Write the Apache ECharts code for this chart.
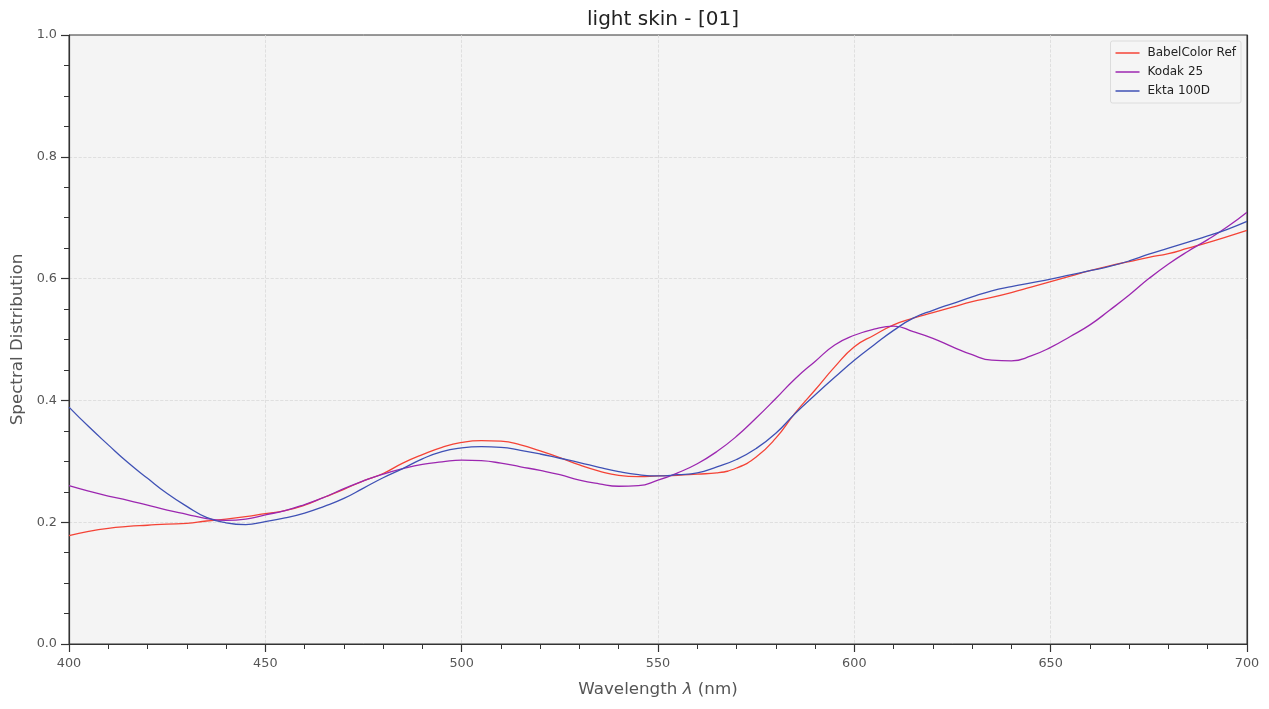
<!DOCTYPE html>
<html>
<head>
<meta charset="utf-8">
<script src="https://cdn.jsdelivr.net/npm/echarts@6/dist/echarts.min.js"></script>
<style>html,body{margin:0;padding:0;background:#fff}#c{width:1269px;height:709px}</style>
</head>
<body>
<div id="c"></div>
<script>
const wavelengths = [400,405,410,415,420,425,430,435,440,445,450,455,460,465,470,475,480,485,490,495,500,505,510,515,520,525,530,535,540,545,550,555,560,565,570,575,580,585,590,595,600,605,610,615,620,625,630,635,640,645,650,655,660,665,670,675,680,685,690,695,700];
const babelColorRef = [0.178,0.185,0.190,0.193,0.195,0.197,0.198,0.202,0.205,0.209,0.214,0.219,0.228,0.241,0.254,0.268,0.280,0.297,0.311,0.323,0.331,0.334,0.333,0.327,0.317,0.306,0.294,0.284,0.277,0.275,0.276,0.277,0.279,0.281,0.289,0.307,0.338,0.380,0.417,0.455,0.488,0.507,0.524,0.535,0.544,0.553,0.562,0.569,0.577,0.586,0.595,0.604,0.613,0.621,0.628,0.635,0.641,0.650,0.659,0.669,0.679];
const kodak25 = [0.260,0.251,0.243,0.236,0.228,0.220,0.213,0.206,0.203,0.205,0.212,0.219,0.229,0.241,0.255,0.268,0.279,0.288,0.295,0.299,0.302,0.301,0.297,0.291,0.285,0.278,0.269,0.263,0.259,0.260,0.269,0.281,0.296,0.316,0.341,0.371,0.403,0.436,0.464,0.491,0.507,0.517,0.522,0.513,0.502,0.488,0.475,0.466,0.465,0.473,0.487,0.505,0.524,0.548,0.573,0.600,0.624,0.645,0.664,0.685,0.709];
const ekta100D = [0.389,0.357,0.327,0.298,0.272,0.247,0.226,0.208,0.199,0.196,0.201,0.207,0.215,0.226,0.239,0.256,0.273,0.288,0.304,0.316,0.322,0.324,0.323,0.318,0.312,0.305,0.298,0.290,0.283,0.278,0.276,0.278,0.281,0.291,0.303,0.321,0.346,0.379,0.409,0.438,0.466,0.491,0.515,0.535,0.548,0.559,0.570,0.580,0.587,0.593,0.599,0.606,0.613,0.620,0.629,0.640,0.650,0.660,0.670,0.681,0.694];
const seriesNames = ['BabelColor Ref','Kodak 25','Ekta 100D'];
const seriesColors = ['#F44336','#9C27B0','#3F51B5'];
const xTicks = [400,450,500,550,600,650,700];
const yTicks = [0.0,0.2,0.4,0.6,0.8,1.0];

const FONT = 'DejaVu Sans';
const allData = [babelColorRef,kodak25,ekta100D];
const xMin = xTicks[0], xMax = xTicks[xTicks.length-1];
const yMin = yTicks[0], yMax = yTicks[yTicks.length-1];
const spine = {show:true,lineStyle:{color:'#333',width:1.2}};
const chart = echarts.init(document.getElementById('c'));
chart.setOption({
  animation:false,
  backgroundColor:'#ffffff',
  title:{text:'light skin - [01]',left:658,top:5,textAlign:'center',textStyle:{fontFamily:FONT,fontSize:20,fontWeight:'normal',color:'#222'}},
  grid:{left:69,right:22,top:35,bottom:65,outerBoundsMode:'none',containLabel:false,show:true,backgroundColor:'#f4f4f4',borderColor:'#333',borderWidth:1},
  legend:{
    orient:'vertical',right:28,top:41,
    data:seriesNames,
    icon:'rect',itemWidth:24,itemHeight:1.5,itemGap:7,
    backgroundColor:'rgba(244,244,244,0.85)',borderColor:'#dcdcdc',borderWidth:1,borderRadius:2,
    padding:[6,5,6,5],
    textStyle:{fontFamily:FONT,fontSize:12,color:'#222',padding:[0,0,0,3]}
  },
  xAxis:[{
    type:'value',min:xMin,max:xMax,interval:50,
    name:'Wavelength {i|λ} (nm)',nameLocation:'middle',nameGap:37,
    nameTextStyle:{fontFamily:FONT,fontSize:16.7,color:'#555',rich:{i:{fontFamily:FONT,fontStyle:'italic',fontSize:16.7,color:'#555'}}},
    axisLine:spine,
    axisTick:{show:true,length:8,lineStyle:{color:'#333',width:1.2}},
    minorTick:{show:true,splitNumber:5,length:5,lineStyle:{color:'#333',width:1}},
    axisLabel:{fontFamily:FONT,fontSize:12.8,color:'#555',margin:13},
    splitLine:{show:true,showMinLine:false,showMaxLine:false,lineStyle:{color:'#d9d9d9',type:'dashed',width:0.8}}
  },{
    type:'value',position:'top',min:xMin,max:xMax,interval:50,z:5,
    axisLine:spine,axisTick:{show:false},axisLabel:{show:false},splitLine:{show:false}
  }],
  yAxis:[{
    type:'value',min:yMin,max:yMax,interval:0.2,
    name:'Spectral Distribution',nameLocation:'middle',nameGap:43,
    nameTextStyle:{fontFamily:FONT,fontSize:16.7,color:'#555'},
    axisLine:spine,
    axisTick:{show:true,length:8,lineStyle:{color:'#333',width:1.2}},
    minorTick:{show:true,splitNumber:4,length:5,lineStyle:{color:'#333',width:1}},
    axisLabel:{fontFamily:FONT,fontSize:12.8,color:'#555',margin:12,formatter:v=>v.toFixed(1)},
    splitLine:{show:true,showMinLine:false,showMaxLine:false,lineStyle:{color:'#d9d9d9',type:'dashed',width:0.8}}
  },{
    type:'value',position:'right',min:yMin,max:yMax,interval:0.2,z:5,
    axisLine:spine,axisTick:{show:false},axisLabel:{show:false},splitLine:{show:false}
  }],
  series:seriesNames.map((n,k)=>({
    name:n,type:'line',smooth:0.5,showSymbol:false,symbol:'none',xAxisIndex:0,yAxisIndex:0,
    lineStyle:{color:seriesColors[k],width:1.3},itemStyle:{color:seriesColors[k]},
    data:wavelengths.map((w,i)=>[w,allData[k][i]])
  }))
});
</script>
</body>
</html>
